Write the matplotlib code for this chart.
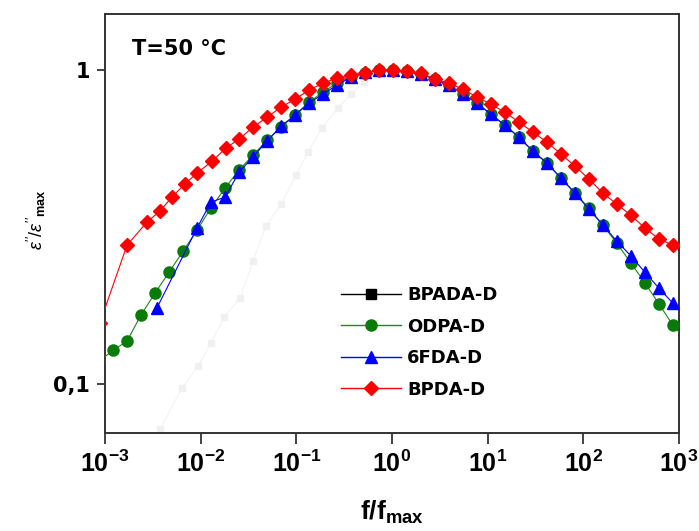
import matplotlib
matplotlib.use("Agg")
import matplotlib.pyplot as plt
from matplotlib.lines import Line2D
from matplotlib.ticker import FixedLocator, FixedFormatter, NullLocator

# ---------------- data ----------------
f_grid = [8.65e-4, 1.213e-3, 1.70e-3, 2.38e-3, 3.34e-3, 4.67e-3, 6.54e-3, 9.16e-3,
          1.28e-2, 1.80e-2, 2.52e-2, 3.52e-2, 4.94e-2, 6.92e-2, 9.68e-2, 0.1355,
          0.190, 0.266, 0.372, 0.521, 0.731, 1.02, 1.43, 2.01, 2.81, 3.94, 5.52,
          7.73, 10.8, 15.1, 21.2, 29.7, 41.6, 58.3, 81.7, 114, 160, 224, 314, 440,
          617, 863, 1208]

eps_odpa = [0.118, 0.128, 0.137, 0.166, 0.195, 0.227, 0.265, 0.309, 0.364, 0.421,
            0.481, 0.536, 0.598, 0.658, 0.719, 0.791, 0.851, 0.909, 0.950, 0.978,
            1.0, 1.0, 0.993, 0.971, 0.936, 0.896, 0.839, 0.785, 0.724, 0.668, 0.612,
            0.552, 0.506, 0.453, 0.406, 0.364, 0.321, 0.281, 0.243, 0.210, 0.180,
            0.154, 0.137]

f_6fda = [3.50e-3, 9.16e-3, 1.28e-2, 1.80e-2, 2.52e-2, 3.52e-2, 4.94e-2, 6.92e-2,
          9.68e-2, 0.1355, 0.190, 0.266, 0.372, 0.521, 0.731, 1.02, 1.43, 2.01, 2.81,
          3.94, 5.52, 7.73, 10.8, 15.1, 21.2, 29.7, 41.6, 58.3, 81.7, 114, 160, 224,
          314, 440, 617, 863, 1208]
eps_6fda = [0.175, 0.314, 0.380, 0.394, 0.473, 0.529, 0.594, 0.663, 0.719, 0.785,
            0.839, 0.896, 0.950, 0.985, 1.0, 1.0, 0.993, 0.971, 0.936, 0.896, 0.839,
            0.785, 0.724, 0.668, 0.612, 0.552, 0.506, 0.453, 0.406, 0.361, 0.321,
            0.285, 0.256, 0.227, 0.202, 0.181, 0.162]

f_bpda = [8.87e-4, 1.70e-3, 2.75e-3, 3.76e-3, 5.01e-3, 6.85e-3, 9.16e-3, 1.32e-2,
          1.84e-2, 2.52e-2, 3.52e-2, 4.94e-2, 6.92e-2, 9.68e-2, 0.1355, 0.190, 0.266,
          0.372, 0.521, 0.731, 1.02, 1.43, 2.01, 2.81, 3.94, 5.52, 7.73, 10.8, 15.1,
          21.2, 29.7, 41.6, 58.3, 81.7, 114, 160, 224, 314, 440, 617, 863]
eps_bpda = [0.157, 0.277, 0.328, 0.356, 0.394, 0.434, 0.470, 0.513, 0.565, 0.603,
            0.658, 0.708, 0.762, 0.808, 0.864, 0.909, 0.943, 0.964, 0.978, 1.0, 1.0,
            0.993, 0.978, 0.936, 0.909, 0.870, 0.820, 0.779, 0.735, 0.683, 0.635,
            0.590, 0.540, 0.495, 0.450, 0.406, 0.374, 0.345, 0.314, 0.290, 0.277]

f_bpada = [2.32e-3, 3.76e-3, 6.38e-3, 9.37e-3, 1.28e-2, 1.75e-2, 2.58e-2, 3.52e-2,
           4.82e-2, 6.92e-2, 9.91e-2, 0.132, 0.186, 0.272, 0.372, 0.509, 0.731, 1.02,
           1.43, 2.01, 2.81, 3.94, 5.52, 7.73, 10.8, 15.1, 21.2, 29.7, 41.6, 58.3,
           81.7, 114, 160, 224, 314, 440, 617, 863]
eps_bpada = [0.0513, 0.0719, 0.0971, 0.114, 0.135, 0.163, 0.188, 0.246, 0.319, 0.374,
             0.463, 0.548, 0.654, 0.757, 0.839, 0.916, 0.971, 1.0, 0.99, 0.965, 0.93,
             0.885, 0.83, 0.775, 0.715, 0.66, 0.60, 0.545, 0.50, 0.445, 0.40, 0.355,
             0.315, 0.275, 0.238, 0.205, 0.176, 0.150]

labels = ["BPADA-D", "ODPA-D", "6FDA-D", "BPDA-D"]
xtick_vals = [1e-3, 1e-2, 1e-1, 1e0, 1e1, 1e2, 1e3]
xtick_labels = [r"$\mathbf{10^{-3}}$", r"$\mathbf{10^{-2}}$", r"$\mathbf{10^{-1}}$",
                r"$\mathbf{10^{0}}$", r"$\mathbf{10^{1}}$", r"$\mathbf{10^{2}}$",
                r"$\mathbf{10^{3}}$"]
ytick_vals = [0.1, 1]
ytick_labels = ["0,1", "1"]

# ---------------- style ----------------
plt.rcParams["font.family"] = ["DejaVu Sans"]
plt.rcParams["mathtext.fontset"] = "custom"
plt.rcParams["mathtext.rm"] = "Liberation Sans"
plt.rcParams["mathtext.bf"] = "Liberation Sans:bold"
plt.rcParams["mathtext.it"] = "Liberation Sans:italic"

fig = plt.figure(figsize=(6.99, 5.31), dpi=100)
ax = fig.add_axes([105 / 699, 1 - 433 / 531, 574 / 699, 419 / 531])
ax.set_xscale("log")
ax.set_yscale("log")

gray = "#f0f0f0"
ax.plot(f_bpada, eps_bpada, color="#f3f3f3", lw=0.8, marker="s", ms=5,
        mfc=gray, mec=gray, zorder=2)
ax.plot(f_grid, eps_odpa, color="#1a8a1a", lw=0.8, marker="o", ms=8,
        mfc="#0a7a0a", mec="#0a7a0a", zorder=3)
ax.plot(f_6fda, eps_6fda, color="#0000ff", lw=0.8, marker="^", ms=9,
        mfc="#0000ff", mec="#0000ff", zorder=4)
ax.plot(f_bpda, eps_bpda, color="#ff0000", lw=0.8, marker="D", ms=7,
        mfc="#ff0000", mec="#ff0000", zorder=5)

ax.set_xlim(1e-3, 1e3)
ax.set_ylim(0.0698, 1.51)

ax.xaxis.set_major_locator(FixedLocator(xtick_vals))
ax.xaxis.set_major_formatter(FixedFormatter(xtick_labels))
ax.xaxis.set_minor_locator(NullLocator())
ax.yaxis.set_major_locator(FixedLocator(ytick_vals))
ax.yaxis.set_major_formatter(FixedFormatter(ytick_labels))
ax.yaxis.set_minor_locator(NullLocator())

ax.tick_params(axis="x", direction="out", length=8, width=1.2, labelsize=18,
               pad=5, color="#222222")
ax.tick_params(axis="y", direction="out", length=6, width=1.2, labelsize=15,
               pad=5, color="#222222")
for lab in ax.get_yticklabels():
    lab.set_fontweight("bold")
for sp in ax.spines.values():
    sp.set_linewidth(1.4)
    sp.set_color("#333333")

ax.text(132 / 699, 1 - 49 / 531, "T=50 °C", transform=fig.transFigure,
        fontsize=15, fontweight="bold", va="center", ha="left")

fig.text(392 / 699, 1 - 512 / 531, r"$\mathbf{f/f_{max}}$", fontsize=19,
         ha="center", va="center")
fig.text(36 / 699, 1 - 220 / 531, r"$\varepsilon''/\varepsilon''_{\mathbf{max}}$",
         fontsize=13, rotation=90, ha="center", va="center", fontweight="bold")

handles = [
    Line2D([], [], color="black", lw=1, marker="s", ms=7, mfc="black", mec="black"),
    Line2D([], [], color="#1a8a1a", lw=1, marker="o", ms=8, mfc="#0a7a0a", mec="#0a7a0a"),
    Line2D([], [], color="#0000ff", lw=1, marker="^", ms=9, mfc="#0000ff", mec="#0000ff"),
    Line2D([], [], color="#ff0000", lw=1, marker="D", ms=7, mfc="#ff0000", mec="#ff0000"),
]
leg = ax.legend(handles, labels, loc="upper left",
                bbox_to_anchor=(332 / 699, 1 - 277 / 531),
                bbox_transform=fig.transFigure, frameon=False, borderpad=0,
                handlelength=3.3, handletextpad=0.35, labelspacing=0.75,
                prop={"weight": "bold", "size": 13})

fig.savefig("out.png", dpi=100)
